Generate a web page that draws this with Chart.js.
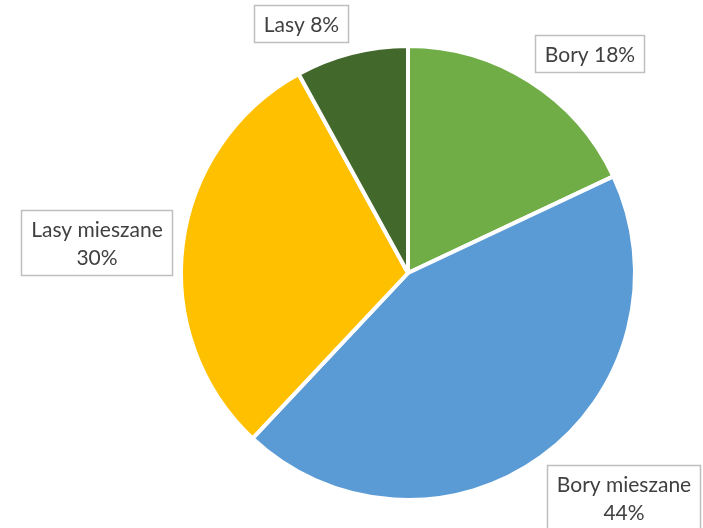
<!DOCTYPE html>
<html>
<head>
<meta charset="utf-8">
<script src="https://cdn.jsdelivr.net/npm/chart.js@4/dist/chart.umd.min.js"></script>
<style>
  html, body { margin: 0; padding: 0; background: #ffffff; }
  #wrap { width: 703px; height: 528px; }
</style>
</head>
<body>
<div id="wrap"><canvas id="c" width="703" height="528"></canvas></div>
<script>
const categories = ['Bory', 'Bory mieszane', 'Lasy mieszane', 'Lasy'];
const shares = [18, 44, 30, 8];
const percentLabels = ['18%', '44%', '30%', '8%'];
const sliceColors = ['#70AD47', '#5B9BD5', '#FFC000', '#43682B'];
// label text lines per slice (single line vs two-line boxes as in reference)
const labelLines = [
  ['Bory ' + percentLabels[0]],
  ['Bory mieszane', percentLabels[1]],
  ['Lasy mieszane', percentLabels[2]],
  ['Lasy ' + percentLabels[3]]
];

const labelPlugin = {
  id: 'boxLabels',
  afterDraw(chart) {
    const ctx = chart.ctx;
    const meta = chart.getDatasetMeta(0);
    ctx.save();
    ctx.font = '21px Lato, "Open Sans", sans-serif';
    ctx.textAlign = 'center';
    ctx.textBaseline = 'middle';
    const lineH = 28, padX = 10, padY = 10, gap = 10;
    meta.data.forEach((arc, i) => {
      const p = arc.getProps(['x', 'y', 'startAngle', 'endAngle', 'outerRadius'], true);
      const mid = (p.startAngle + p.endAngle) / 2;
      const dx = Math.cos(mid), dy = Math.sin(mid);
      const ax = p.x + (p.outerRadius + gap) * dx;
      const ay = p.y + (p.outerRadius + gap) * dy;
      const lines = labelLines[i];
      const tw = Math.max(...lines.map(l => ctx.measureText(l).width));
      const w = Math.round(tw + 2 * padX);
      const h = Math.round(lines.length * lineH + padY);
      let bx, by;
      if (Math.abs(dx) < 0.2) bx = ax - w / 2; else bx = dx > 0 ? ax : ax - w;
      if (Math.abs(dy) < 0.2) by = ay - h / 2; else by = dy > 0 ? ay : ay - h;
      bx = Math.round(bx); by = Math.round(by);
      ctx.fillStyle = '#ffffff';
      ctx.fillRect(bx, by, w, h);
      ctx.strokeStyle = '#BFBFBF';
      ctx.lineWidth = 1.5;
      ctx.strokeRect(bx + 0.5, by + 0.5, w - 1, h - 1);
      ctx.fillStyle = '#404040';
      lines.forEach((l, k) => {
        ctx.fillText(l, bx + w / 2, by + padY / 2 + lineH * (k + 0.5) + 1);
      });
    });
    ctx.restore();
  }
};

new Chart(document.getElementById('c'), {
  type: 'pie',
  data: {
    labels: categories,
    datasets: [{
      data: shares,
      backgroundColor: sliceColors,
      borderColor: '#ffffff',
      borderWidth: 4,
      radius: 227
    }]
  },
  options: {
    responsive: false,
    animation: false,
    layout: { padding: { left: 113, right: 0, top: 18, bottom: 0 } },
    plugins: {
      legend: { display: false },
      tooltip: { enabled: false }
    }
  },
  plugins: [labelPlugin]
});
</script>
</body>
</html>
